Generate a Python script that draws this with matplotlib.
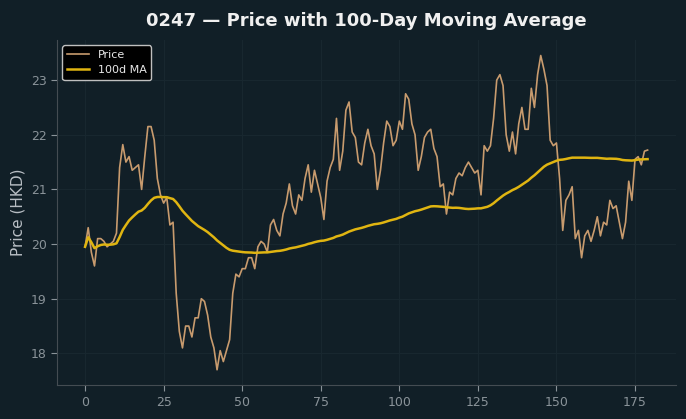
import numpy as np
import pandas as pd
import matplotlib
matplotlib.use("Agg")
import matplotlib.pyplot as plt

ticker = "0247"
window = 100

# daily close (days 0..179)
price = [
    19.95, 20.30, 19.85, 19.60, 20.10, 20.10, 20.05, 19.95, 20.00, 20.05,
    20.20, 21.40, 21.82, 21.50, 21.60, 21.35, 21.40, 21.45, 21.00, 21.60,
    22.15, 22.15, 21.90, 21.20, 20.90, 20.75, 20.85, 20.35, 20.40, 19.10,
    18.40, 18.10, 18.50, 18.50, 18.30, 18.65, 18.65, 19.00, 18.95, 18.70,
    18.30, 18.10, 17.70, 18.05, 17.85, 18.05, 18.25, 19.10, 19.45, 19.40,
    19.55, 19.55, 19.75, 19.75, 19.55, 19.95, 20.05, 20.00, 19.85, 20.35,
    20.45, 20.25, 20.15, 20.55, 20.75, 21.10, 20.70, 20.55, 20.90, 20.80,
    21.20, 21.45, 20.95, 21.35, 21.10, 20.85, 20.45, 21.15, 21.40, 21.55,
    22.30, 21.35, 21.70, 22.45, 22.60, 22.05, 21.95, 21.50, 21.45, 21.85,
    22.10, 21.80, 21.65, 21.00, 21.35, 21.85, 22.25, 22.15, 21.80, 21.90,
    22.25, 22.10, 22.75, 22.65, 22.20, 22.00, 21.35, 21.60, 21.95, 22.05,
    22.10, 21.75, 21.60, 21.05, 21.10, 20.55, 20.95, 20.90, 21.20, 21.30,
    21.25, 21.40, 21.50, 21.40, 21.30, 21.35, 20.90, 21.80, 21.70, 21.80,
    22.30, 23.00, 23.10, 22.90, 22.00, 21.70, 22.05, 21.65, 22.20, 22.50,
    22.10, 22.10, 22.85, 22.50, 23.10, 23.45, 23.20, 22.90, 21.90, 21.80,
    21.85, 21.20, 20.25, 20.80, 20.90, 21.05, 20.10, 20.25, 19.75, 20.15,
    20.25, 20.05, 20.25, 20.50, 20.15, 20.40, 20.35, 20.80, 20.65, 20.70,
    20.40, 20.10, 20.40, 21.15, 20.80, 21.55, 21.60, 21.45, 21.70, 21.72,
]
days = np.arange(len(price))
ma = pd.Series(price).rolling(window, min_periods=1).mean()

bg = "#111f27"
plt.rcParams["font.family"] = "DejaVu Sans"

fig, ax = plt.subplots(figsize=(6.86, 4.19), dpi=100)
fig.patch.set_facecolor(bg)
ax.set_facecolor(bg)

ax.plot(days, price, color="#c89b6e", lw=1.2, label="Price")
ax.plot(days, ma, color="#e0b511", lw=1.8, label=f"{window}d MA")

ax.set_title(f"{ticker} — Price with 100-Day Moving Average",
             color="#f0f0f0", fontsize=13, fontweight="bold", pad=10)
ax.set_ylabel("Price (HKD)", color="#b8bec4", fontsize=11)
ax.grid(True, color="#18272f", lw=0.8)
ax.tick_params(colors="#8a9399", labelsize=9, length=4)
for s in ["top", "right"]:
    ax.spines[s].set_visible(False)
for s in ["left", "bottom"]:
    ax.spines[s].set_color("#444c52")

leg = ax.legend(loc="upper left", fontsize=8, facecolor="#000000",
                edgecolor="#c0c0c0", labelcolor="#e8e8e8", framealpha=1)

plt.subplots_adjust(left=0.083, right=0.985, top=0.905, bottom=0.08)
plt.savefig("out.png", facecolor=bg)
